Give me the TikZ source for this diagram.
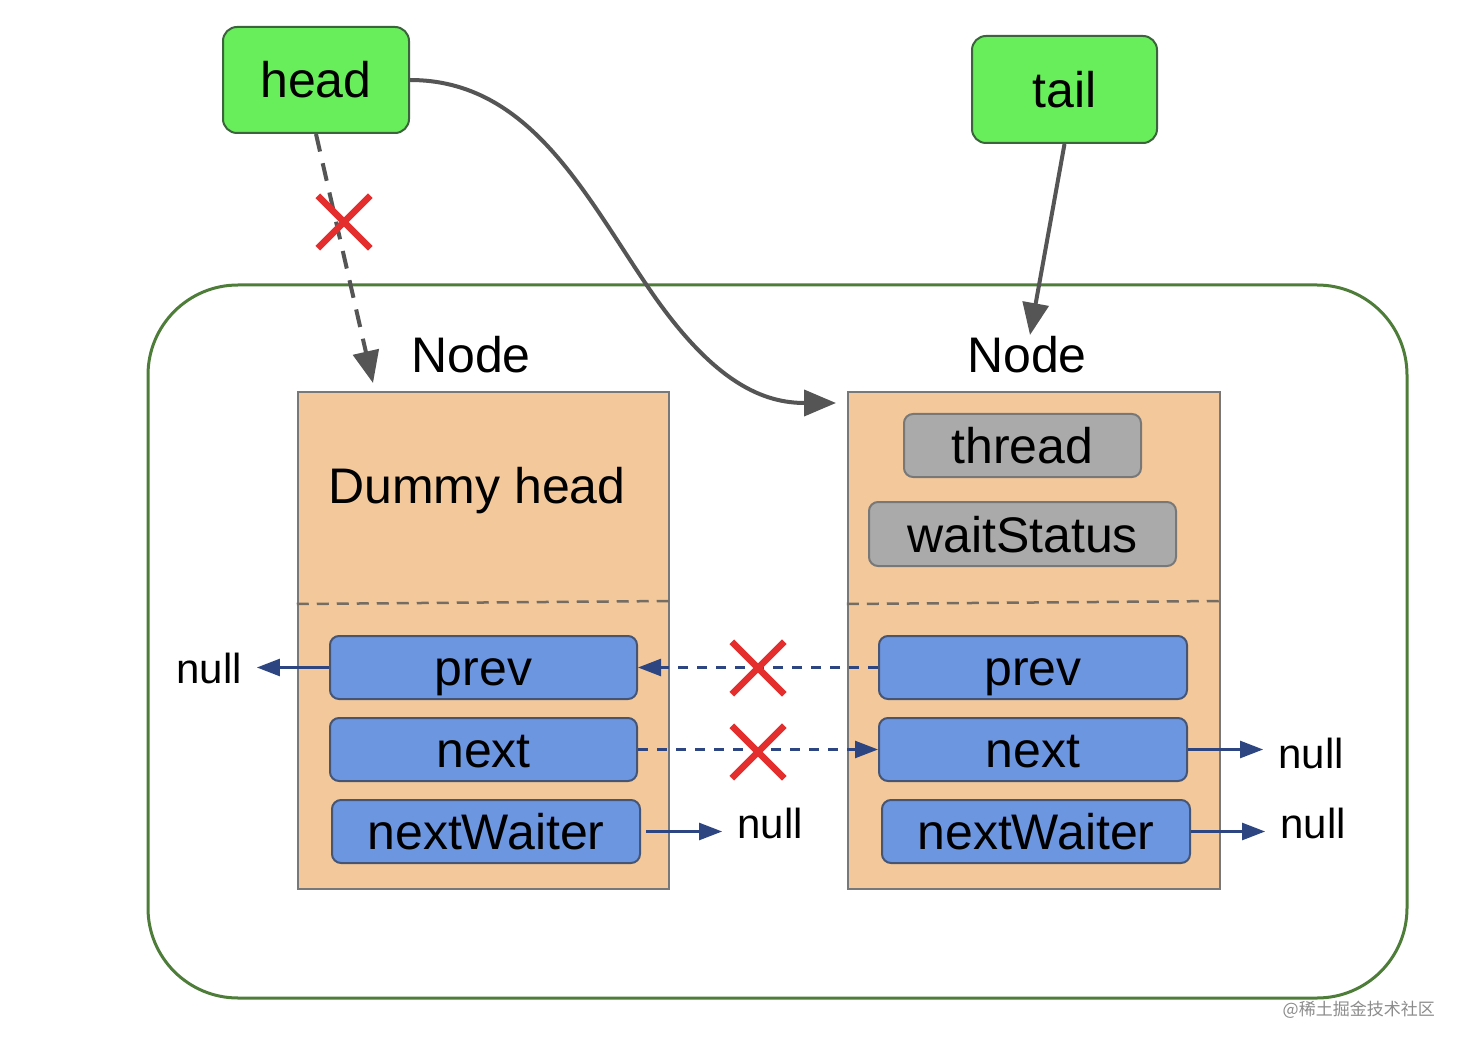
\documentclass[tikz,border=0pt]{standalone}
\usepackage{fontspec}
\setmainfont{Liberation Sans}
\newfontfamily\cjk{Noto Sans CJK SC}
\usetikzlibrary{arrows.meta,shapes.misc}
\definecolor{hgreen}{RGB}{104,238,90}
\definecolor{hgreenb}{RGB}{60,100,60}
\definecolor{outerg}{RGB}{78,125,58}
\definecolor{peach}{RGB}{243,201,156}
\definecolor{boxgray}{RGB}{120,120,120}
\definecolor{fblue}{RGB}{109,150,224}
\definecolor{fblueb}{RGB}{70,85,115}
\definecolor{navy}{RGB}{45,70,130}
\definecolor{agray}{RGB}{85,85,85}
\definecolor{xred}{RGB}{228,45,45}
\definecolor{ggray}{RGB}{170,170,170}
\begin{document}
\begin{tikzpicture}[x=1pt,y=-1pt,
  bigtxt/.style={font=\fontsize{50}{56}\selectfont, text height=36pt, text depth=0pt, inner sep=0pt},
  ptrbox/.style={bigtxt, draw=hgreenb, fill=hgreen, line width=2pt, rounded corners=14pt},
  nodebox/.style={draw=boxgray, fill=peach, line width=2.5pt, inner sep=0pt},
  fieldbox/.style={bigtxt, draw=fblueb, fill=fblue, line width=2pt, rounded corners=9pt, minimum height=63pt},
  graybox/.style={bigtxt, draw=boxgray, fill=ggray, line width=2pt, rounded corners=9pt},
  nulltxt/.style={font=\fontsize{42}{48}\selectfont, text height=30pt, text depth=0pt, inner xsep=15pt, inner ysep=0pt},
  grayarrow/.style={draw=agray, line width=4pt, -{Triangle[length=32pt,width=26pt]}},
  bluearrow/.style={draw=navy, line width=2.5pt, -{Triangle[length=23pt,width=17pt]}},
  bluedash/.style={bluearrow, dash pattern=on 10pt off 9pt},
  redx/.style={cross out, draw=xred, line width=6.5pt, minimum size=46pt, inner sep=0pt},
  sepline/.style={draw=agray!80!peach, line width=2.5pt, dash pattern=on 12pt off 8pt}
]
\useasboundingbox (0,0) rectangle (1462,1048);
\fill[white] (0,0) rectangle (1462,1048);

% outer container
\node[draw=outerg, line width=3pt, rounded corners=90pt, minimum width=1259pt, minimum height=713pt, inner sep=0pt] (outer) at (777.5,641.5) {};

% node boxes
\node[nodebox, minimum width=371pt, minimum height=497pt] (nodeL) at (483.5,640.5) {};
\node[nodebox, minimum width=372pt, minimum height=497pt] (nodeR) at (1034,640.5) {};
\draw[sepline] (nodeL.west |- 0,604) -- (nodeL.east |- 0,601);
\draw[sepline] (nodeR.west |- 0,604) -- (nodeR.east |- 0,601);

% labels
\node[bigtxt] (lblL) at (471,355) {Node};
\node[bigtxt] (lblR) at (1027,355) {Node};
\node[bigtxt] (dummy) at (477,485) {Dummy head};

% pointer boxes
\node[ptrbox, minimum width=186pt, minimum height=106pt] (head) at (316,80) {head};
\node[ptrbox, minimum width=185pt, minimum height=107pt] (tail) at (1064.5,89.5) {tail};

% gray fields
\node[graybox, minimum width=237pt, minimum height=63pt] (thread) at (1022.5,445.5) {thread};
\node[graybox, minimum width=307pt, minimum height=64pt] (wait) at (1022.5,534) {waitStatus};

% blue fields
\node[fieldbox, minimum width=307pt] (prevL) at (483.5,667.5) {prev};
\node[fieldbox, minimum width=307pt] (nextL) at (483.5,749.5) {next};
\node[fieldbox, minimum width=308pt] (nwL) at (486,831.5) {nextWaiter};
\node[fieldbox, minimum width=308pt] (prevR) at (1033,667.5) {prev};
\node[fieldbox, minimum width=308pt] (nextR) at (1033,749.5) {next};
\node[fieldbox, minimum width=308pt] (nwR) at (1036,831.5) {nextWaiter};

% nulls
\node[nulltxt] (nullL) at (209,668) {null};
\node[nulltxt] (nullM) at (770,823) {null};
\node[nulltxt] (nullR1) at (1311,753) {null};
\node[nulltxt] (nullR2) at (1313,823) {null};

% blue arrows
\draw[bluearrow] (prevL.west) -- (prevL.west -| nullL.east);
\draw[bluearrow] ([xshift=5pt]nwL.east) -- (nwL.east -| nullM.west);
\draw[bluearrow] (nextR.east) -- (nextR.east -| nullR1.west);
\draw[bluearrow] (nwR.east) -- (nwR.east -| nullR2.west);
\draw[bluedash] (prevR.west) -- (prevL.east);
\draw[bluedash] (nextL.east) -- (nextR.west);

% gray pointer arrows
\coordinate (headtip) at (373,383);
\coordinate (tailtip) at (1030,335);
\coordinate (curvemid) at (650,290);
\coordinate (curvetip) at (836,403);
\draw[grayarrow, dash pattern=on 18pt off 12pt] (head.south) -- (headtip);
\draw[grayarrow] (tail.south) -- (tailtip);
\draw[grayarrow] (head.east) .. controls (530,80) and (585,195) .. (curvemid) .. controls (715,385) and (765,403) .. (curvetip);

% red crosses
\node[redx] (x1) at (344,222) {};
\node[redx] (x2) at (758,668) {};
\node[redx] (x3) at (758,752) {};

% watermark
\node[font=\cjk\fontsize{17}{20}\selectfont, text=black!45, inner sep=0pt, anchor=east] (wm) at (1435,1010) {@稀土掘金技术社区};
\end{tikzpicture}
\end{document}
